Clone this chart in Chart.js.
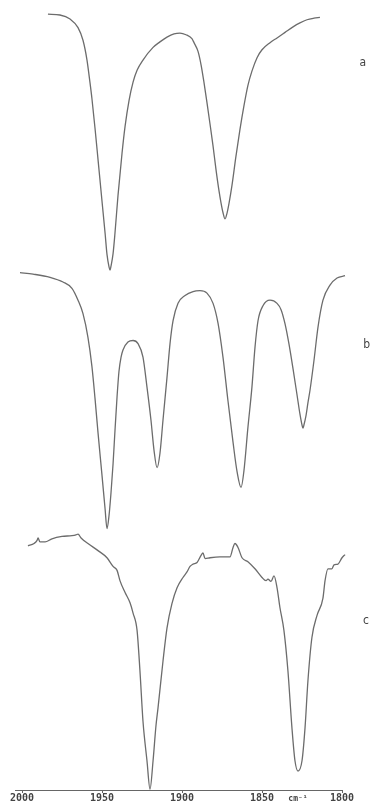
<!DOCTYPE html>
<html>
<head>
<meta charset="utf-8">
<script src="https://cdn.jsdelivr.net/npm/chart.js@4.4.0/dist/chart.umd.min.js"></script>
<style>
    html, body { margin: 0; padding: 0; background: #fff; }
    #wrap { width: 374px; height: 804px; position: relative; }
</style>
</head>
<body>
<div id="wrap"><canvas id="ir-chart"></canvas></div>
<script>
// wavenumber (cm-1) and stacked relative transmittance
const waveA = [1983.8, 1976.3, 1970, 1965, 1961.9, 1959.4, 1957.5, 1956.3, 1954.4, 1952.5, 1950, 1948.1, 1946.9,
    1945.6, 1945, 1944.4, 1943.1, 1941.9, 1940, 1937.5, 1935.6, 1933.1, 1930.6, 1928.1, 1924.4, 1918.1, 1913.8,
    1909.4, 1905, 1901.3, 1897.5, 1893.8, 1892.5, 1890, 1888.1, 1886.3, 1884.4, 1882.5, 1880.6, 1878.8, 1877,
    1875.6, 1874.4, 1873.1, 1871.9, 1870.6, 1868.8, 1866.3, 1863.8, 1861.3, 1858.8, 1856.3, 1853.1, 1850, 1845,
    1840.6, 1835.6, 1830.6, 1826.3, 1821.9, 1817.5, 1813.8];
const transA = [98.2, 98.1, 97.6, 96.5, 94.9, 92.4, 89.5, 87.5, 83.8, 79.8, 74.5, 70.5, 67.8,
    66.2, 65.8, 66.3, 67.9, 70.5, 75.3, 80.6, 84.0, 87.3, 89.6, 91.1, 92.4, 94.0, 94.7,
    95.3, 95.7, 95.8, 95.6, 95.1, 94.6, 93.5, 91.8, 89.6, 87.0, 84.3, 81.5, 78.6, 76.0,
    74.3, 73.1, 72.3, 73.0, 74.3, 76.5, 80.2, 83.6, 86.6, 89.2, 91.0, 92.7, 93.7, 94.6,
    95.2, 95.9, 96.6, 97.1, 97.5, 97.7, 97.8];

const waveB = [2001.3, 1993.1, 1982.5, 1974.4, 1968.8, 1965, 1961.9, 1958.8, 1956.3, 1954.4, 1952.5, 1950, 1948.1,
    1946.9, 1945.6, 1944.4, 1943.1, 1941.9, 1940.6, 1939.4, 1938.1, 1936.9, 1933.8, 1930.6, 1927.5, 1924.4,
    1921.9, 1919.4, 1917.5, 1915.6, 1913.8, 1911.9, 1909.4, 1907.5, 1905.6, 1902.5, 1898.1, 1893.1, 1888.8,
    1884.4, 1880.6, 1877.5, 1874.4, 1871.3, 1868.1, 1865.6, 1863.1, 1861.3, 1858.8, 1856.3, 1854.4, 1852.5,
    1849.4, 1845, 1840.6, 1838.1, 1835.6, 1833.1, 1830.6, 1828.1, 1826.3, 1825, 1824.4, 1823.8, 1822.5, 1821.3,
    1820, 1817.5, 1815, 1811.9, 1807.5, 1803.1, 1798.1];
const transB = [65.5, 65.3, 64.9, 64.3, 63.5, 62.0, 60.3, 57.3, 53.6, 49.6, 45.2, 39.8, 35.6,
    33.1, 34.8, 37.6, 41.3, 45.5, 49.8, 53.0, 54.8, 55.7, 56.7, 56.9, 56.5, 54.8,
    51.0, 46.8, 43.0, 40.8, 42.6, 46.8, 52.2, 56.5, 59.4, 61.6, 62.6, 63.1, 63.2,
    62.9, 61.6, 59.1, 54.8, 49.3, 44.0, 40.3, 38.3, 40.4, 45.9, 51.0, 56.0, 59.4,
    61.3, 62.0, 61.6, 60.8, 59.0, 56.4, 53.3, 50.0, 47.6, 46.2, 45.8, 46.2, 47.4, 49.0,
    50.6, 54.4, 58.6, 62.0, 63.9, 64.8, 65.1];

const waveC = [1996.3, 1992.5, 1990.6, 1990, 1988.8, 1985.6, 1981.3, 1975, 1968.8, 1966.3, 1965, 1963.1, 1958.8,
    1952.5, 1946.9, 1943.1, 1940.6, 1938.8, 1935.6, 1932.5, 1930.6, 1928.1, 1926.3, 1924.4, 1921.9, 1920,
    1918.1, 1916.3, 1915, 1911.9, 1909.4, 1906.3, 1903.1, 1899.4, 1896.9, 1895, 1893.1, 1890.6, 1888.1, 1886.9,
    1885.6, 1882.5, 1876.3, 1870, 1868.1, 1866.9, 1865, 1862.5, 1858.8, 1854.4, 1850, 1847.5, 1846.3, 1844.4,
    1842.5, 1840.6, 1838.8, 1836.3, 1833.8, 1831.3, 1829.4, 1827.5, 1825, 1823.1, 1821.3, 1818.8, 1815.6,
    1811.9, 1810.6, 1808.8, 1806.3, 1805, 1802.5, 1800, 1798.1];
const transC = [30.9, 31.2, 31.6, 31.9, 31.4, 31.4, 31.8, 32.1, 32.2, 32.3, 32.4, 31.9, 31.2,
    30.3, 29.4, 28.3, 27.8, 26.5, 25.0, 23.7, 22.4, 20.2, 15.1, 8.7, 3.7, 0.1,
    3.7, 8.1, 10.4, 16.3, 20.5, 23.6, 25.6, 26.9, 27.6, 28.3, 28.6, 28.8, 29.7, 30.0,
    29.3, 29.4, 29.5, 29.5, 30.7, 31.2, 30.7, 29.4, 28.9, 28.0, 26.9, 26.5, 26.7, 26.4,
    27.1, 25.6, 23.1, 20.2, 15.1, 7.9, 3.7, 2.4, 3.7, 7.9, 13.8, 19.3, 22.1,
    24.3, 26.5, 28.0, 28.0, 28.5, 28.6, 29.4, 29.8];

const xTicks = [2000, 1950, 1900, 1850, 1800];
const unitText = 'cm⁻¹';
const unitAt = 1827.5;

const traceNames = ['a', 'b', 'c'];
const traceNameLevels = [92.1, 56.3, 21.4];
const traceNameAt = [1787, 1784.5, 1785];

const lineColor = '#6c6c6c';

function toPoints(xs, ys) {
    return xs.map((x, i) => ({ x: x, y: ys[i] }));
}

function traceDataset(xs, ys) {
    return {
        data: toPoints(xs, ys),
        borderColor: lineColor,
        borderWidth: 1.3,
        pointRadius: 0,
        cubicInterpolationMode: 'monotone',
        clip: false,
    };
}

// a, b, c letters and the unit next to the axis
const textPlugin = {
    id: 'spectrumText',
    afterDatasetsDraw(chart) {
        const { ctx } = chart;
        const xScale = chart.scales.x;
        const yScale = chart.scales.y;

        ctx.save();
        ctx.fillStyle = '#444';
        ctx.textAlign = 'center';
        ctx.textBaseline = 'middle';
        ctx.font = '12px "DejaVu Sans Condensed", "DejaVu Sans", sans-serif';
        traceNames.forEach((name, i) => {
            ctx.fillText(name, xScale.getPixelForValue(traceNameAt[i]), yScale.getPixelForValue(traceNameLevels[i]));
        });

        ctx.font = 'bold 8px "DejaVu Sans Mono", monospace';
        const tickY = xScale.top + 9;
        ctx.fillText(unitText, xScale.getPixelForValue(unitAt), tickY);
        ctx.restore();
    }
};

new Chart(document.getElementById('ir-chart'), {
    type: 'line',
    data: {
        datasets: [
            traceDataset(waveA, transA),
            traceDataset(waveB, transB),
            traceDataset(waveC, transC),
        ]
    },
    options: {
        responsive: true,
        maintainAspectRatio: false,
        animation: false,
        layout: { padding: { left: 15, right: 32, top: 0, bottom: 0 } },
        plugins: {
            legend: { display: false },
            tooltip: { enabled: false },
        },
        scales: {
            x: {
                type: 'linear',
                reverse: true,
                min: 1800,
                max: 2004.4,
                afterBuildTicks: (scale) => {
                    scale.ticks = xTicks.map(v => ({ value: v }));
                },
                border: { display: true, color: '#666', width: 1 },
                grid: { drawOnChartArea: false, drawTicks: true, tickLength: 3, color: '#666' },
                ticks: {
                    padding: 0,
                    maxRotation: 0,
                    autoSkip: false,
                    color: '#444',
                    font: { family: '"DejaVu Sans Mono", monospace', size: 10, weight: 'bold', lineHeight: 1.1 },
                    callback: (value) => String(value),
                },
            },
            y: {
                display: false,
                min: 0,
                max: 100,
            },
        },
    },
    plugins: [textPlugin],
});
</script>
</body>
</html>
